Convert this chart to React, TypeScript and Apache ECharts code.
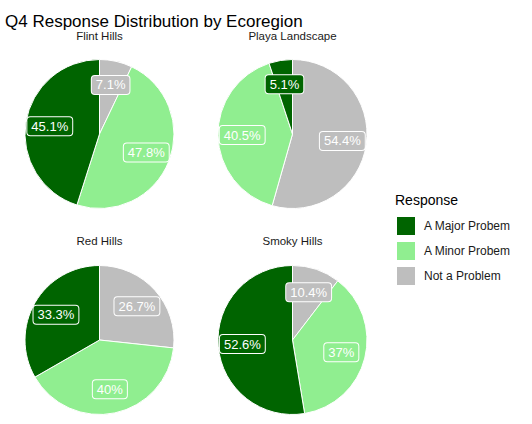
import React, { useEffect, useRef } from 'react'
import * as echarts from 'echarts'

// facets and response categories
const regions = ['Flint Hills', 'Playa Landscape', 'Red Hills', 'Smoky Hills']
const responses = ['Not a Problem', 'A Minor Probem', 'A Major Probem']
const legendOrder = ['A Major Probem', 'A Minor Probem', 'Not a Problem']

// percent of answers per region (same order as regions)
const notProblem = [7.1, 54.4, 26.7, 10.4]
const minorProblem = [47.8, 40.5, 40, 37]
const majorProblem = [45.1, 5.1, 33.3, 52.6]

const colors: Record<string, string> = {
  'A Major Probem': '#006400',
  'A Minor Probem': '#90EE90',
  'Not a Problem': '#BEBEBE',
}

const font = '"Liberation Sans", Arial, sans-serif'
const centers = [
  [99.5, 134],
  [292.5, 134],
  [99.5, 340],
  [292.5, 340],
]
const radius = 74.5

const App = function () {
  const chartDom = useRef<HTMLDivElement>(null)

  useEffect(() => {
    if (!chartDom.current) return
    const chart = echarts.init(chartDom.current, null, { renderer: 'svg' })

    const series: any[] = regions.map((region, i) => {
      const values = [notProblem[i], minorProblem[i], majorProblem[i]]
      return {
        type: 'pie',
        name: region,
        center: centers[i],
        radius: radius,
        startAngle: 90,
        clockwise: true,
        data: values.map((v, j) => ({
          name: responses[j],
          value: v,
          itemStyle: { color: colors[responses[j]] },
          label: { backgroundColor: colors[responses[j]] },
        })),
        itemStyle: { borderColor: '#fff', borderWidth: 1 },
        label: {
          show: true,
          position: 'inside',
          formatter: (p: any) => `${p.value}%`,
          color: '#fff',
          fontSize: 13,
          fontFamily: font,
          borderColor: '#fff',
          borderWidth: 1,
          borderRadius: 3,
          padding: [3, 4, 2, 4],
        },
        labelLine: { show: false },
        emphasis: { disabled: true },
        // push the inside labels a little further out from the centre
        labelLayout: (params: any) => {
          const [cx, cy] = centers[i]
          const r = params.labelRect
          const lx = r.x + r.width / 2
          const ly = r.y + r.height / 2
          return {
            x: cx + 1.25 * (lx - cx),
            y: cy + 1.25 * (ly - cy),
            align: 'center',
            verticalAlign: 'middle',
          }
        },
      }
    })

    const option: any = {
      animation: false,
      backgroundColor: '#fff',
      legend: {
        data: legendOrder,
        orient: 'vertical',
        left: 395,
        top: 215,
        padding: 0,
        itemWidth: 20,
        itemHeight: 20,
        itemGap: 3,
        icon: 'rect',
        selectedMode: false,
        textStyle: { fontSize: 12, fontFamily: font, color: '#1a1a1a', padding: [0, 0, 0, 3] },
      },
      graphic: [
        {
          type: 'text',
          x: 5,
          y: 21,
          style: {
            text: 'Q4 Response Distribution by Ecoregion',
            font: `17px ${font}`,
            fill: '#000',
            textVerticalAlign: 'middle',
          },
        },
        ...regions.map((region, i) => ({
          type: 'text',
          x: centers[i][0],
          y: i < 2 ? 36 : 241,
          style: {
            text: region,
            font: `11.5px ${font}`,
            fill: '#1a1a1a',
            textAlign: 'center',
            textVerticalAlign: 'middle',
          },
        })),
        {
          type: 'text',
          x: 395,
          y: 200,
          style: {
            text: 'Response',
            font: `14px ${font}`,
            fill: '#000',
            textVerticalAlign: 'middle',
          },
        },
      ],
      series,
    }
    chart.setOption(option)

    return () => {
      chart.dispose()
    }
  }, [])

  return (
    <div
      ref={chartDom}
      style={{ position: 'fixed', left: 0, top: 0, width: 532, height: 424, background: '#fff' }}
    />
  )
}

export default App
